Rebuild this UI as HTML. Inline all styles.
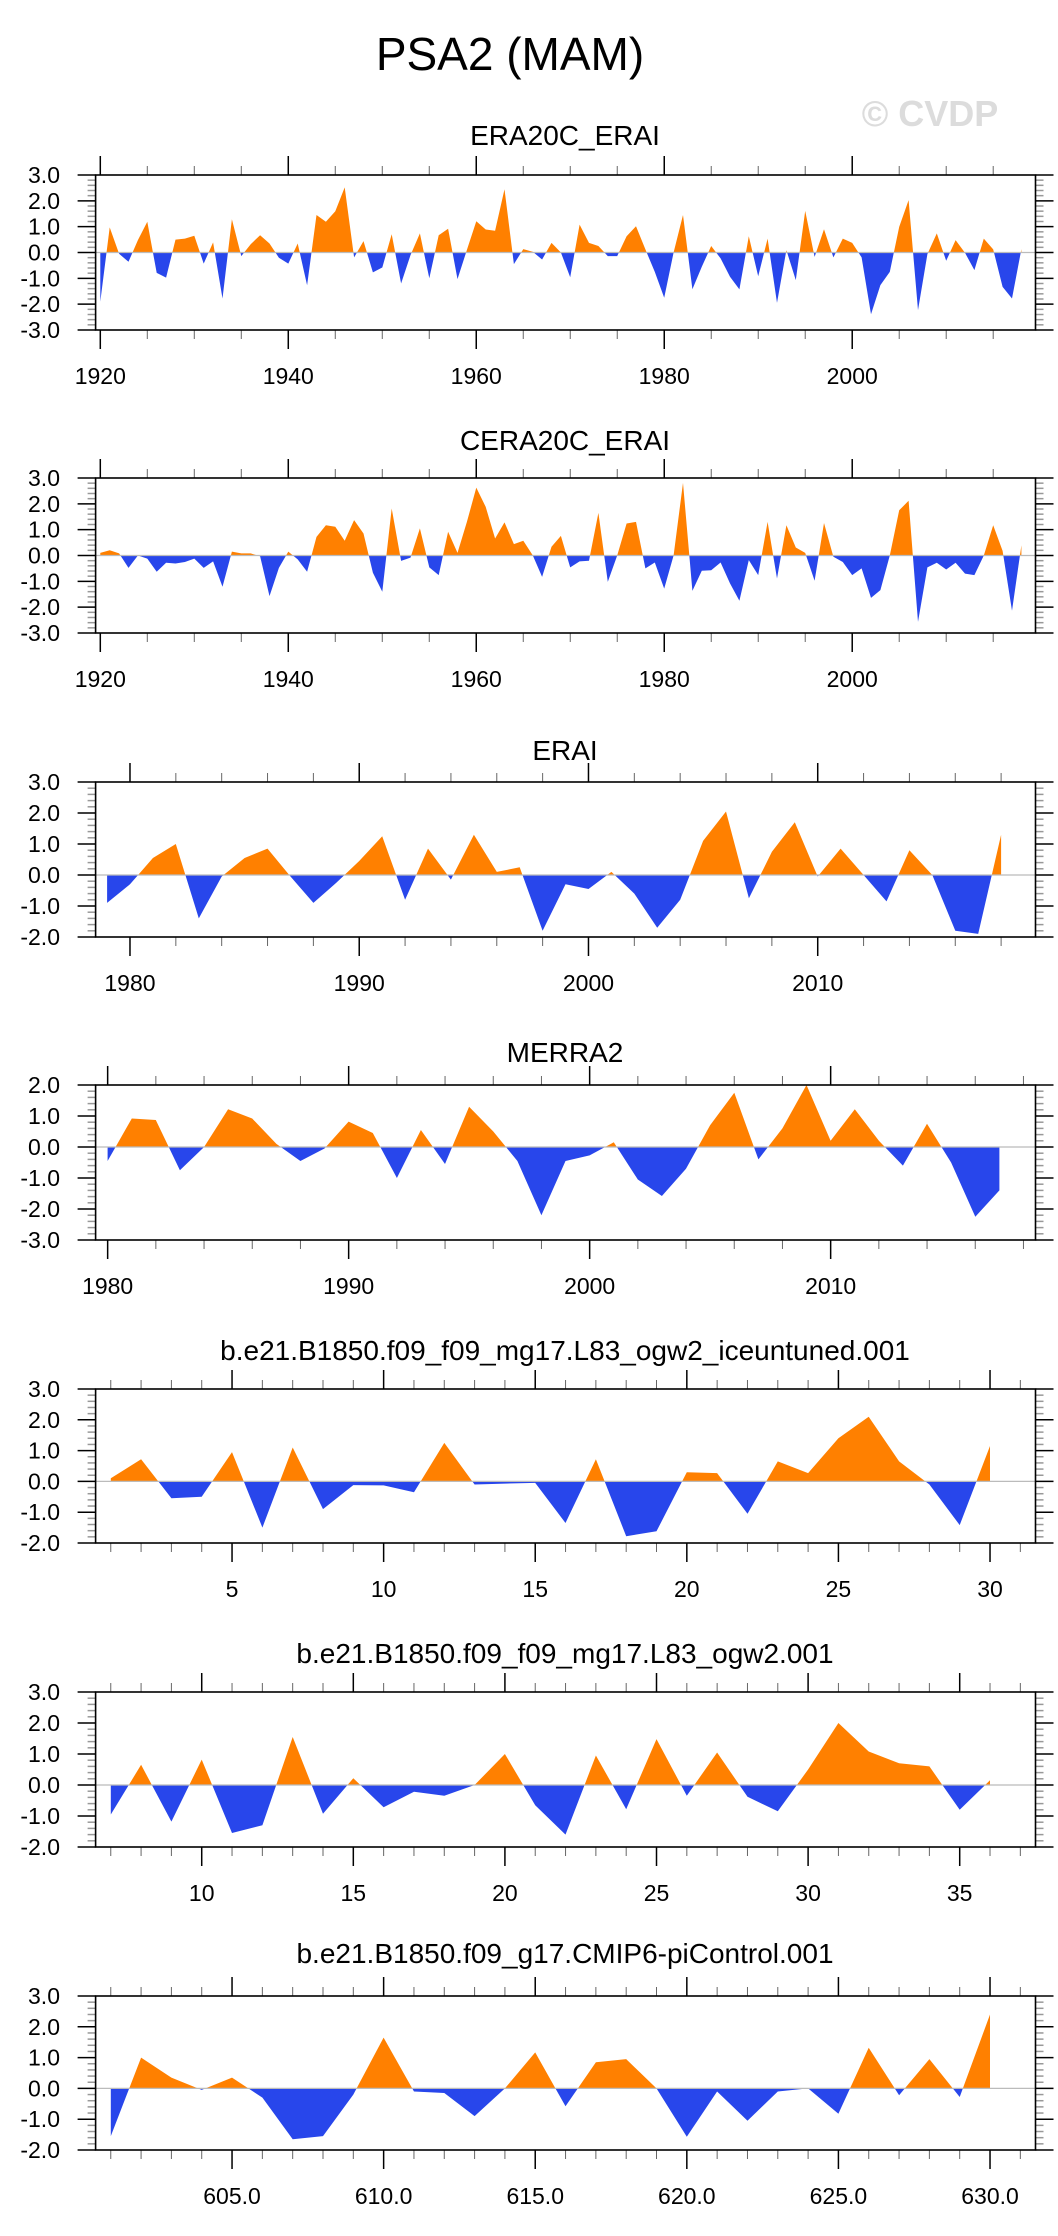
<!DOCTYPE html>
<html><head><meta charset="utf-8"><style>
html,body{margin:0;padding:0;background:#fff;}
svg{display:block;font-family:"Liberation Sans",sans-serif;}
</style></head>
<body>
<svg id="fig" width="1058" height="2236" viewBox="0 0 1058 2236" xmlns="http://www.w3.org/2000/svg">
<rect width="1058" height="2236" fill="#fff"/>
<text x="510" y="70" font-size="46" text-anchor="middle">PSA2 (MAM)</text>
<text x="930" y="126" font-size="36" font-weight="bold" fill="#dcdcdc" text-anchor="middle">© CVDP</text>
</svg>
<script>
const era20cYears=[1920,2018];
const era20cVals=[-1.9,0.97,-0.05,-0.36,0.48,1.19,-0.79,-0.97,0.5,0.54,0.65,-0.43,0.39,-1.78,1.29,-0.14,0.32,0.67,0.35,-0.2,-0.43,0.35,-1.27,1.45,1.19,1.6,2.52,-0.19,0.44,-0.77,-0.58,0.71,-1.2,-0.1,0.74,-1.0,0.67,0.92,-1.03,0.1,1.21,0.89,0.84,2.45,-0.45,0.13,0.03,-0.27,0.37,0.0,-0.96,1.08,0.37,0.25,-0.14,-0.14,0.63,1.02,0.12,-0.75,-1.75,0.0,1.45,-1.42,-0.55,0.25,-0.23,-0.94,-1.43,0.63,-0.92,0.54,-1.95,0.09,-1.07,1.61,-0.17,0.9,-0.19,0.54,0.37,-0.19,-2.39,-1.26,-0.75,0.99,2.03,-2.23,-0.06,0.74,-0.32,0.48,-0.01,-0.68,0.54,0.12,-1.33,-1.78,0.13];
const cera20cVals=[0.1,0.2,0.08,-0.48,0.0,-0.12,-0.63,-0.28,-0.31,-0.25,-0.12,-0.48,-0.23,-1.21,0.15,0.08,0.08,-0.03,-1.57,-0.48,0.15,-0.15,-0.63,0.72,1.17,1.11,0.57,1.37,0.85,-0.67,-1.4,1.82,-0.21,-0.08,1.05,-0.46,-0.76,0.92,0.1,1.3,2.63,1.88,0.66,1.28,0.44,0.57,0.01,-0.83,0.34,0.76,-0.46,-0.23,-0.2,1.65,-1.02,0.0,1.24,1.3,-0.5,-0.27,-1.28,0.0,2.81,-1.37,-0.59,-0.57,-0.27,-1.08,-1.75,-0.18,-0.76,1.3,-0.89,1.17,0.31,0.1,-0.98,1.26,-0.05,-0.25,-0.76,-0.5,-1.64,-1.34,0.0,1.75,2.12,-2.57,-0.46,-0.28,-0.54,-0.28,-0.7,-0.76,0.0,1.17,0.18,-2.14,0.4];
const eraiVals=[-0.9,-0.3,0.55,1.0,-1.4,-0.05,0.55,0.85,-0.05,-0.9,-0.25,0.45,1.25,-0.8,0.85,-0.15,1.3,0.1,0.25,-1.8,-0.3,-0.45,0.1,-0.6,-1.7,-0.8,1.1,2.05,-0.75,0.75,1.7,-0.05,0.85,0.0,-0.85,0.8,0.0,-1.8,-1.9,1.3];
const merraVals=[-0.45,0.92,0.87,-0.75,0.0,1.22,0.92,0.1,-0.45,-0.05,0.82,0.45,-1.0,0.55,-0.55,1.3,0.5,-0.45,-2.2,-0.45,-0.27,0.15,-1.05,-1.58,-0.7,0.7,1.75,-0.4,0.6,2.0,0.2,1.22,0.2,-0.6,0.75,-0.5,-2.25,-1.4];
const iceVals=[0.1,0.72,-0.55,-0.5,0.95,-1.5,1.1,-0.9,-0.12,-0.13,-0.35,1.25,-0.1,-0.07,-0.05,-1.35,0.72,-1.78,-1.62,0.3,0.27,-1.05,0.65,0.27,1.4,2.1,0.65,-0.1,-1.42,1.15];
const ogwVals=[-0.95,0.65,-1.18,0.82,-1.55,-1.3,1.55,-0.93,0.22,-0.72,-0.22,-0.35,0.0,1.0,-0.65,-1.6,0.95,-0.78,1.48,-0.35,1.05,-0.38,-0.85,0.5,2.0,1.08,0.7,0.6,-0.8,0.15];
const piVals=[-1.55,1.0,0.35,-0.05,0.35,-0.3,-1.65,-1.55,-0.2,1.65,-0.1,-0.15,-0.9,0.0,1.17,-0.58,0.85,0.95,0.0,-1.57,-0.1,-1.05,-0.1,0.0,-0.82,1.32,-0.22,0.95,-0.28,2.4];
const panelTitles=["ERA20C_ERAI","CERA20C_ERAI","ERAI","MERRA2","b.e21.B1850.f09_f09_mg17.L83_ogw2_iceuntuned.001","b.e21.B1850.f09_f09_mg17.L83_ogw2.001","b.e21.B1850.f09_g17.CMIP6-piControl.001"];

const NS="http://www.w3.org/2000/svg";
const svg=document.getElementById('fig');
function mk(tag,attrs,parent){const e=document.createElementNS(NS,tag);for(const k in attrs)e.setAttribute(k,attrs[k]);(parent||svg).appendChild(e);return e;}

const panels=[
 {vals:era20cVals,x0:1920,xmin:1919.5,xmax:2019.5,ymin:-3,ymax:3,top:175,bot:330,title:135,major:[1920,1940,1960,1980,2000],minorStep:5,minorStart:1920,minorEnd:2015,fmt:v=>String(v)},
 {vals:cera20cVals,x0:1920,xmin:1919.5,xmax:2019.5,ymin:-3,ymax:3,top:478,bot:633,title:440,major:[1920,1940,1960,1980,2000],minorStep:5,minorStart:1920,minorEnd:2015,fmt:v=>String(v)},
 {vals:eraiVals,x0:1979,xmin:1978.5,xmax:2019.5,ymin:-2,ymax:3,top:782,bot:937,title:750,major:[1980,1990,2000,2010],minorStep:2,minorStart:1980,minorEnd:2018,fmt:v=>String(v)},
 {vals:merraVals,x0:1980,xmin:1979.5,xmax:2018.5,ymin:-3,ymax:2,top:1085,bot:1240,title:1052,major:[1980,1990,2000,2010],minorStep:2,minorStart:1980,minorEnd:2018,fmt:v=>String(v)},
 {vals:iceVals,x0:1,xmin:0.5,xmax:31.5,ymin:-2,ymax:3,top:1389,bot:1543,title:1350,major:[5,10,15,20,25,30],minorStep:1,minorStart:1,minorEnd:31,fmt:v=>String(v)},
 {vals:ogwVals,x0:7,xmin:6.5,xmax:37.5,ymin:-2,ymax:3,top:1692,bot:1847,title:1653,major:[10,15,20,25,30,35],minorStep:1,minorStart:7,minorEnd:37,fmt:v=>String(v)},
 {vals:piVals,x0:601,xmin:600.5,xmax:631.5,ymin:-2,ymax:3,top:1996,bot:2150,title:1953,major:[605,610,615,620,625,630],minorStep:1,minorStart:601,minorEnd:631,fmt:v=>v.toFixed(1)}
];
const L=95.6,R=1035.5;

panels.forEach((p,pi)=>{
  const g=mk('g',{});
  
  
  const xs=v=>L+(v-p.xmin)/(p.xmax-p.xmin)*(R-L);
  const ys=v=>p.bot-(v-p.ymin)/(p.ymax-p.ymin)*(p.bot-p.top);
  const t=mk('text',{x:565,y:p.title+10,'font-size':28,'text-anchor':'middle'},g);
  
  
  t.textContent=panelTitles[pi];
  // fill
  const z=ys(0);
  const cid='c'+pi;
  const defs=mk('defs',{},g);
  const cpA=mk('clipPath',{id:cid+'a'},defs);mk('rect',{x:L,y:p.top,width:R-L,height:z-p.top},cpA);
  const cpB=mk('clipPath',{id:cid+'b'},defs);mk('rect',{x:L,y:z,width:R-L,height:p.bot-z},cpB);
  let pts=[[xs(p.x0),z]];
  p.vals.forEach((v,i)=>pts.push([xs(p.x0+i),ys(v)]));
  pts.push([xs(p.x0+p.vals.length-1),z]);
  const ps=pts.map(q=>q[0].toFixed(1)+','+q[1].toFixed(1)).join(' ');
  const pos=mk('polygon',{points:ps,fill:'#ff8000','clip-path':'url(#'+cid+'a)'},g);
  
  
  const neg=mk('polygon',{points:ps,fill:'#2846eb','clip-path':'url(#'+cid+'b)'},g);
  
  
  const zl=mk('line',{x1:L,x2:R,y1:z,y2:z,stroke:'#bbb','stroke-width':1.2},g);
  
  
  // y ticks
  for(let v=p.ymin;v<=p.ymax+1e-9;v+=0.2){
    const y=ys(v);const maj=Math.abs(v-Math.round(v))<1e-6;
    const len=maj?18:8;const col=maj?'#000':'#999';
    mk('line',{x1:L-len,x2:L,y1:y,y2:y,stroke:col,'stroke-width':maj?1.5:1.5},g);
    mk('line',{x1:R,x2:R+len,y1:y,y2:y,stroke:col,'stroke-width':1.5},g);
    if(maj){
      const tl=mk('text',{x:60,y:y+8,'font-size':23,'text-anchor':'end'},g);
      
      
      tl.textContent=Math.round(v).toFixed(1);
    }
  }
  // x ticks
  for(let v=p.minorStart;v<=p.minorEnd+1e-9;v+=p.minorStep){
    if(p.major.includes(v))continue;
    const x=xs(v);
    mk('line',{x1:x,x2:x,y1:p.bot,y2:p.bot+9,stroke:'#666','stroke-width':1},g);
    mk('line',{x1:x,x2:x,y1:p.top-9,y2:p.top,stroke:'#666','stroke-width':1},g);
  }
  p.major.forEach(v=>{
    const x=xs(v);
    mk('line',{x1:x,x2:x,y1:p.bot,y2:p.bot+19,stroke:'#000','stroke-width':1.5},g);
    mk('line',{x1:x,x2:x,y1:p.top-19,y2:p.top,stroke:'#000','stroke-width':1.5},g);
    const xl=mk('text',{x:x,y:p.bot+54,'font-size':23,'text-anchor':'middle'},g);
    
    
    xl.textContent=p.fmt(v);
  });
  const box=mk('rect',{x:L,y:p.top,width:R-L,height:p.bot-p.top,fill:'none',stroke:'#000','stroke-width':1.6},g);
  
  
});
</script>
</body></html>
